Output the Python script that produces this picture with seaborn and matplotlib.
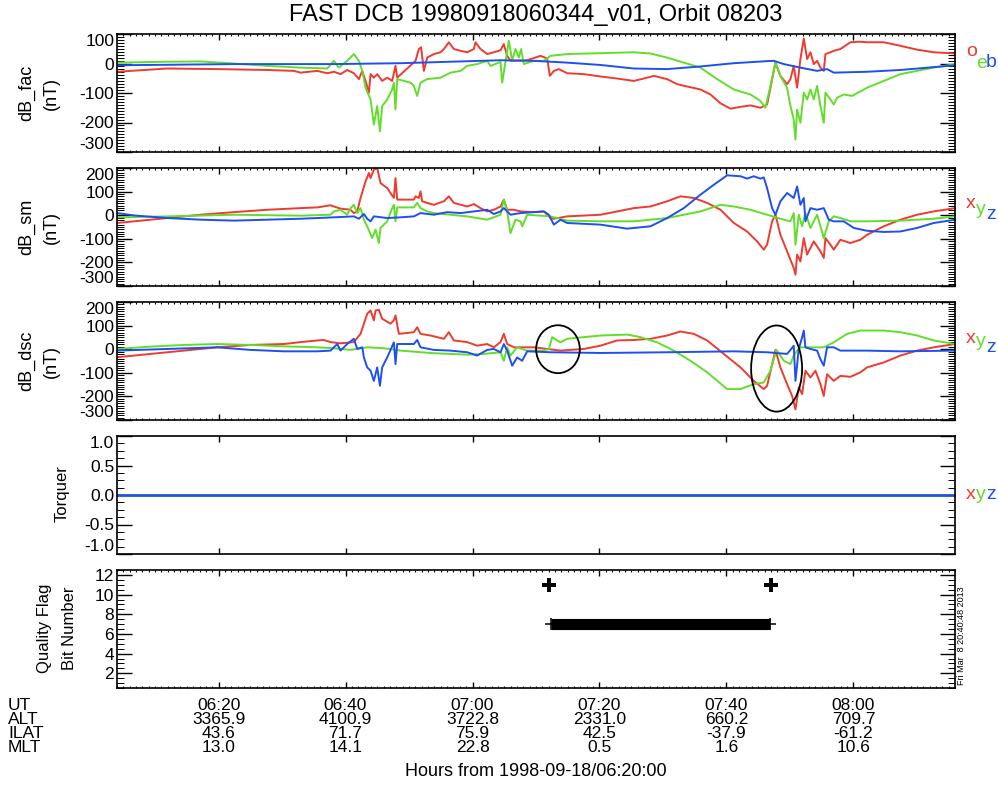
import numpy as np
import matplotlib
matplotlib.use("Agg")
import matplotlib.pyplot as plt
from matplotlib.patches import Ellipse
from matplotlib.ticker import FixedLocator, MultipleLocator, FormatStrFormatter
from matplotlib.transforms import blended_transform_factory
import seaborn as sns

# ---------------- data (time in minutes after 1998-09-18/06:20:00) ----------------
T_START, T_END = -16.0, 116.0

fac_o_t = [-15.96, -8.08, -0.21, 7.67, 11.86, 12.91, 15.54, 17.11, 18.16, 19.21,
           20.26, 21.31, 22.10, 22.63, 23.15, 23.68, 23.94, 24.46, 24.99, 25.77,
           26.56, 27.35, 27.87, 28.14, 31.02, 31.55, 31.90, 32.34, 32.86, 33.91,
           34.96, 35.49, 36.27, 37.06, 38.11, 39.16, 40.21, 40.47, 41.26, 42.31,
           43.36, 44.41, 44.93, 45.46, 45.98, 48.61, 50.71, 51.76, 52.18, 52.81,
           53.60, 54.91, 57.53, 60.16, 62.78, 65.41, 66.98, 68.56, 70.66, 72.23,
           73.81, 75.91, 77.48, 79.06, 80.63, 82.21, 83.78, 85.35, 86.40, 87.72,
           88.50, 89.55, 90.08, 90.60, 91.13, 91.65, 92.18, 92.70, 93.23, 93.75,
           94.28, 94.80, 95.33, 95.59, 96.38, 96.90, 97.95, 99.53, 100.84, 102.15,
           104.78, 107.40, 110.03, 112.65, 116.06]
fac_o_v = [-28, -17, -19, -22, -25, -31, -25, -33, -28, -36,
           -22, -33, -53, -25, -59, -99, -36, -48, -36, -59,
           -48, -59, -8, -48, 9, 49, 55, -25, 20, 32,
           38, 49, 72, 49, 43, 38, 49, 72, 49, 32,
           38, 45, 66, 26, 9, 11, 26, 17, -42, -25,
           -19, -33, -36, -44, -51, -59, -51, -42, -53, -70,
           -78, -88, -105, -135, -153, -147, -142, -150, -139, 3,
           -42, -70, -53, -8, -82, 15, 85, 15, 38, -2,
           9, -14, -25, 32, 38, 43, 49, 72, 74, 72,
           72, 60, 47, 38, 34]

fac_e_t = [-15.96, -8.08, -2.83, 2.42, 7.67, 12.91, 17.11, 18.16, 18.95, 20.26,
           21.31, 22.10, 22.63, 23.15, 23.94, 24.46, 24.99, 25.41, 25.77, 26.56,
           27.35, 27.61, 27.87, 28.14, 30.24, 30.76, 31.29, 31.81, 32.86, 34.96,
           36.54, 38.11, 39.16, 40.74, 42.31, 42.84, 44.41, 44.67, 45.72, 46.25,
           46.77, 47.30, 47.66, 48.08, 49.66, 51.23, 52.28, 54.91, 60.16, 65.41,
           68.03, 70.66, 73.28, 75.91, 78.53, 81.16, 83.78, 85.35, 86.14, 86.93,
           87.72, 88.50, 89.55, 90.08, 90.60, 90.87, 91.13, 91.65, 92.18, 92.70,
           93.23, 93.75, 94.28, 94.80, 95.33, 95.59, 96.38, 96.90, 97.43, 98.48,
           99.79, 102.15, 104.78, 107.40, 110.03, 112.65, 116.06]
fac_e_v = [3, 6, 7, 0, -8, -14, -17, 9, -14, 9,
           32, 9, -25, -82, -122, -207, -144, -230, -144, -122,
           -88, -65, -156, -53, -65, -76, -110, -65, -53, -48,
           -31, -25, -8, -2, 9, -8, 5, -65, 77, 9,
           49, 20, 49, -2, 9, 9, 26, 32, 35, 38,
           34, 20, 3, -14, -53, -88, -105, -127, -150, -76,
           3, -42, -82, -144, -190, -258, -156, -201, -99, -122,
           -88, -122, -76, -144, -201, -99, -122, -139, -116, -105,
           -110, -82, -59, -36, -25, -14, -2]

fac_b_t = [-15.96, 2.42, 18.16, 28.66, 44.41, 49.66, 54.91, 60.16, 65.41, 70.66,
           75.91, 81.16, 86.40, 87.46, 89.03, 91.65, 94.28, 95.85, 96.90, 102.15,
           107.40, 116.06]
fac_b_v = [-6, -2, -2, 1, 11, 9, 3, -5, -17, -19,
           -10, 1, 8, 9, -2, -14, -25, -19, -31, -28,
           -22, -6]

sm_x_t = [-15.96, -8.08, -2.83, 2.42, 7.67, 12.91, 15.54, 17.64, 18.16, 19.21,
          20.79, 21.31, 21.84, 22.36, 23.15, 23.68, 23.94, 24.46, 24.99, 25.51,
          26.56, 27.61, 27.87, 28.14, 30.76, 31.02, 31.55, 31.81, 32.07, 32.86,
          33.91, 35.49, 36.27, 37.06, 39.16, 40.21, 41.26, 42.31, 43.36, 44.41,
          44.93, 45.46, 46.51, 47.56, 49.66, 51.23, 52.28, 52.81, 54.91, 60.16,
          65.41, 68.03, 70.66, 72.76, 74.86, 76.96, 79.06, 81.16, 83.25, 84.83,
          85.88, 86.40, 87.19, 87.72, 88.50, 89.55, 90.60, 90.87, 91.13, 91.65,
          92.18, 92.70, 93.75, 94.80, 95.33, 95.59, 96.38, 96.90, 97.95, 99.53,
          101.10, 102.15, 104.78, 107.40, 110.03, 112.65, 116.06]
sm_x_v = [-33, -12, 2, 13, 23, 30, 33, 42, 37, 28,
          23, 9, 16, 73, 143, 179, 157, 193, 200, 136,
          115, 73, 157, 66, 66, 80, 73, 101, 59, 52,
          44, 59, 80, 52, 37, 47, 30, 16, 23, 37,
          66, 23, 23, 16, 13, 16, -12, -15, -5, 2,
          30, 37, 59, 80, 73, 52, 23, -33, -69, -111,
          -146, -125, -26, 2, -83, -153, -224, -252, -167, -196,
          -97, -167, -111, -153, -181, -97, -125, -146, -104, -118,
          -104, -83, -47, -19, 2, 16, 30]

sm_y_t = [-15.96, -8.08, 2.42, 12.91, 17.64, 18.16, 19.21, 20.26, 20.79, 21.31,
          21.84, 22.36, 22.89, 23.41, 24.20, 24.73, 25.25, 25.51, 26.56, 27.35,
          27.61, 27.87, 28.14, 30.76, 31.29, 31.81, 32.86, 33.91, 36.54, 39.16,
          42.31, 44.41, 44.93, 45.46, 45.98, 46.77, 47.56, 47.82, 48.61, 52.28,
          54.91, 60.16, 65.41, 70.66, 75.91, 79.06, 81.16, 83.78, 86.40, 89.03,
          90.08, 90.60, 90.87, 91.39, 91.92, 92.44, 93.23, 94.28, 94.80, 95.33,
          96.12, 96.90, 97.95, 99.53, 102.15, 107.40, 112.65, 116.06]
sm_y_v = [-9, -5, 2, -2, 2, 16, 23, 2, 30, 44,
          9, 30, -19, -47, -97, -61, -118, -54, -26, 30,
          44, -26, 33, 33, 52, 30, 16, 9, 2, -5,
          -19, 2, 66, 16, -76, -19, -26, -47, 2, -5,
          -23, -26, -26, -12, 16, 44, 37, 23, 2, -19,
          -26, 9, -125, 2, -47, 9, -54, 2, -47, -97,
          -26, -5, -12, -26, -26, -23, -15, -5]

sm_z_t = [-15.96, -13.33, -8.08, -2.83, 2.42, 7.67, 12.91, 18.16, 21.31, 22.10,
          22.89, 23.41, 23.94, 24.46, 26.56, 28.66, 30.76, 31.81, 33.91, 36.01,
          38.11, 40.21, 42.31, 43.36, 44.41, 44.93, 45.98, 47.56, 49.66, 51.23,
          52.02, 52.81, 53.86, 54.91, 60.16, 64.36, 68.03, 70.66, 73.28, 75.91,
          78.01, 80.11, 82.21, 83.25, 84.30, 85.35, 85.88, 86.40, 87.19, 87.72,
          88.50, 89.55, 90.60, 91.13, 91.65, 92.18, 92.44, 93.23, 94.28, 95.33,
          96.12, 96.90, 98.48, 100.05, 102.15, 104.78, 107.40, 110.03, 112.65, 116.06]
sm_z_v = [9, -1, -12, -19, -23, -19, -15, -9, -5, -15,
          5, -15, -26, -5, -12, -9, -5, 9, 2, 13,
          9, 16, 23, 5, 16, 30, 2, 9, 13, 16,
          2, -40, -19, -33, -40, -57, -47, -12, 30, 87,
          129, 169, 165, 155, 165, 155, 160, 115, 30, 2,
          59, 94, 73, 122, 44, 73, -26, 30, 23, 30,
          -19, -26, -26, -54, -66, -71, -69, -54, -33, -19]

dsc_x_t = [-15.96, -10.71, -5.46, -0.21, 5.04, 10.29, 12.91, 15.54, 16.59, 17.64,
           19.21, 21.31, 22.36, 23.41, 23.94, 24.46, 24.73, 25.25, 25.77, 27.09,
           27.61, 27.87, 28.40, 30.76, 31.29, 31.81, 33.39, 35.49, 36.27, 37.06,
           39.16, 40.74, 42.31, 43.36, 44.41, 44.93, 45.46, 46.51, 49.66, 51.76,
           53.86, 57.53, 60.16, 62.78, 65.41, 68.03, 70.66, 72.76, 74.86, 76.96,
           79.58, 82.21, 84.30, 85.88, 86.40, 87.72, 88.50, 89.55, 90.34, 90.87,
           91.39, 91.92, 92.44, 93.23, 94.02, 94.80, 95.33, 95.85, 96.90, 97.95,
           99.53, 101.10, 102.15, 104.78, 107.40, 110.03, 112.65, 116.06]
dsc_x_v = [-34, -20, -6, 8, 18, 22, 30, 37, 39, 30,
           25, 30, 65, 150, 164, 122, 164, 167, 129, 108,
           122, 143, 65, 72, 93, 65, 58, 44, 72, 37,
           30, 15, 22, 8, 30, 65, 22, 8, 8, 1,
           -6, 1, 15, 37, 39, 44, 58, 75, 65, 37,
           -20, -77, -134, -169, -155, -3, -77, -148, -198, -255,
           -162, -190, -91, -120, -91, -148, -198, -106, -134, -113,
           -117, -98, -77, -56, -27, -6, 8, 22]

dsc_y_t = [-15.96, -10.71, -5.46, -0.21, 5.04, 10.29, 15.54, 18.16, 20.79, 23.41,
           26.04, 28.66, 33.91, 39.16, 41.79, 44.41, 44.93, 45.46, 45.98, 47.03,
           48.61, 51.23, 52.02, 52.55, 53.33, 53.86, 54.91, 57.53, 60.16, 64.36,
           66.46, 69.08, 71.71, 74.33, 76.96, 80.11, 82.21, 84.30, 85.88, 86.93,
           87.88, 89.03, 90.08, 90.60, 91.13, 91.65, 93.75, 95.33, 96.90, 99.00,
           101.10, 104.78, 107.40, 110.03, 112.65, 116.06]
dsc_y_v = [1, 11, 18, 22, 18, 12, 8, 4, -3, 8,
           4, -6, -17, -23, -20, -13, -49, 8, -27, 8,
           -6, -6, 1, 51, 37, 29, 44, 51, 58, 62,
           51, 29, -6, -49, -98, -169, -169, -148, -141, -91,
           -3, -49, -63, -27, -6, 8, 8, 8, 29, 65,
           79, 79, 72, 58, 37, 22]

dsc_z_t = [-15.96, -8.08, -0.21, 5.04, 10.29, 15.54, 17.64, 18.16, 18.69, 19.21,
           20.26, 21.31, 21.84, 22.63, 22.89, 23.41, 23.94, 24.46, 24.99, 25.41,
           25.77, 26.56, 27.61, 27.87, 28.14, 30.76, 31.29, 31.81, 33.91, 36.54,
           39.16, 40.74, 42.31, 43.36, 44.41, 44.93, 45.46, 46.25, 47.03, 47.82,
           48.61, 52.28, 60.16, 70.66, 81.16, 86.40, 89.55, 90.08, 90.60, 90.87,
           91.39, 91.92, 92.18, 92.44, 93.23, 94.28, 94.80, 95.33, 95.85, 96.90,
           97.95, 102.15, 107.40, 116.06]
dsc_z_v = [-6, 1, 8, -3, -9, -9, -6, 8, 22, -6,
           22, 44, 1, 8, -35, -77, -91, -134, -77, -155,
           -77, -35, 29, -63, 22, 22, 39, 8, -3, -6,
           -13, -27, -3, 1, -13, 22, -6, -70, -35, -49,
           -9, -13, -16, -13, -9, -13, -20, -3, 15, -134,
           1, 51, 79, 8, 1, -6, -42, -70, 8, 8,
           -6, -6, -9, -6]

torq_t = [T_START, T_END]
torq_x = [0.0, 0.0]
torq_y = [0.0, 0.0]
torq_z = [0.0, 0.0]

qf_bit11_t = [51.97, 87.09]
qf_bit11 = [11, 11]
qf_bit7_t = [52.44, 86.93]
qf_bit7 = [7, 7]

# ellipses marked on dB_dsc: (centre time [min], centre value [nT], width [min], height [nT])
ellipse_1 = (53.46, 0.0, 6.88, 203.0)
ellipse_2 = (87.90, -82.0, 8.03, 365.0)

ut_ticks_min = [0, 20, 40, 60, 80, 100]
ut_labels = ['06:20', '06:40', '07:00', '07:20', '07:40', '08:00']
alt_labels = ['3365.9', '4100.9', '3722.8', '2331.0', '660.2', '709.7']
ilat_labels = ['43.6', '71.7', '75.9', '42.5', '-37.9', '-61.2']
mlt_labels = ['13.0', '14.1', '22.8', '0.5', '1.6', '10.6']

# ---------------- style ----------------
W, H = 998, 785
sns.set_theme(style="ticks")
plt.rcParams['font.family'] = ['Liberation Sans', 'DejaVu Sans']
plt.rcParams['axes.unicode_minus'] = False
plt.rcParams['axes.linewidth'] = 1.2
plt.rcParams['axes.edgecolor'] = 'black'
plt.rcParams['xtick.color'] = 'black'
plt.rcParams['ytick.color'] = 'black'
plt.rcParams['text.color'] = 'black'

RED = '#ee3b2f'
GREEN = '#62de2a'
BLUE = '#1e4ff0'
LW = 1.4

fig = plt.figure(figsize=(W / 100, H / 100), dpi=100)
fig.patch.set_facecolor('white')


def px(x, y):
    return x / W, 1 - y / H


def panel_axes(i):
    top = 34 + 134 * i
    ax = fig.add_axes([117 / W, 1 - (top + 118) / H, 838 / W, 118 / H])
    ax.set_facecolor('white')
    return ax


def style_x(ax, minor=True):
    ax.set_xlim(T_START / 60, T_END / 60)
    ax.xaxis.set_major_locator(FixedLocator(np.array(ut_ticks_min) / 60))
    if minor:
        ax.xaxis.set_minor_locator(MultipleLocator(1 / 60))
    ax.tick_params(axis='x', which='major', direction='in', length=4.5, width=1.0,
                   top=True, bottom=True, labelbottom=False)
    ax.tick_params(axis='x', which='minor', direction='in', length=1.6, width=0.8,
                   top=True, bottom=True)
    ax.set_xlabel('')


def style_y(ax, ylim, major, minor, fmt, fs=12.5, nudge=True):
    ax.set_ylim(*ylim)
    ax.yaxis.set_major_locator(FixedLocator(major))
    ax.yaxis.set_minor_locator(MultipleLocator(minor))
    ax.yaxis.set_major_formatter(FormatStrFormatter(fmt))
    ax.tick_params(axis='y', which='major', direction='in', length=11, width=1.0,
                   left=True, right=True, labelsize=fs, pad=2)
    ax.tick_params(axis='y', which='minor', direction='in', length=5, width=0.7,
                   left=True, right=True)
    ax.set_ylabel('')
    if nudge:
        ticks = ax.yaxis.get_major_ticks()
        ticks[0].label1.set_verticalalignment('bottom')
        ticks[-1].label1.set_verticalalignment('top')


def draw(ax, t, v, color, lw=LW):
    sns.lineplot(x=np.asarray(t) / 60, y=np.asarray(v), color=color, linewidth=lw,
                 ax=ax, estimator=None, sort=False)


# ---------------- panel 1: dB_fac ----------------
ax1 = panel_axes(0)
draw(ax1, fac_o_t, fac_o_v, RED)
draw(ax1, fac_e_t, fac_e_v, GREEN)
draw(ax1, fac_b_t, fac_b_v, BLUE)
style_x(ax1)
style_y(ax1, (-300, 100), [-300, -200, -100, 0, 100], 10, '%d')

# ---------------- panel 2: dB_sm ----------------
ax2 = panel_axes(1)
draw(ax2, sm_x_t, sm_x_v, RED)
draw(ax2, sm_y_t, sm_y_v, GREEN)
draw(ax2, sm_z_t, sm_z_v, BLUE)
style_x(ax2)
style_y(ax2, (-300, 200), [-300, -200, -100, 0, 100, 200], 10, '%d')

# ---------------- panel 3: dB_dsc ----------------
ax3 = panel_axes(2)
draw(ax3, dsc_x_t, dsc_x_v, RED)
draw(ax3, dsc_y_t, dsc_y_v, GREEN)
draw(ax3, dsc_z_t, dsc_z_v, BLUE)
style_x(ax3)
style_y(ax3, (-300, 200), [-300, -200, -100, 0, 100, 200], 10, '%d')
for (tc, vc, wd, ht) in (ellipse_1, ellipse_2):
    ax3.add_patch(Ellipse((tc / 60, vc), wd / 60, ht, fill=False, ec='black', lw=1.3,
                          zorder=5))

# ---------------- panel 4: Torquer ----------------
ax4 = panel_axes(3)
draw(ax4, torq_t, torq_x, RED, lw=1.8)
draw(ax4, torq_t, torq_y, GREEN, lw=1.8)
draw(ax4, torq_t, torq_z, BLUE, lw=1.8)
style_x(ax4, minor=False)
style_y(ax4, (-1.0, 1.0), [-1.0, -0.5, 0.0, 0.5, 1.0], 0.125, '%.1f', fs=12.5)

# ---------------- panel 5: Quality flag ----------------
ax5 = panel_axes(4)
sns.lineplot(x=np.asarray(qf_bit7_t) / 60, y=qf_bit7, color='black', linewidth=8,
             ax=ax5, estimator=None, sort=False, solid_capstyle='butt')
sns.scatterplot(x=np.asarray(qf_bit7_t) / 60, y=qf_bit7, marker='+', s=70,
                color='black', linewidth=1.1, ax=ax5)
sns.scatterplot(x=np.asarray(qf_bit11_t) / 60, y=qf_bit11, marker='P', s=90,
                color='black', linewidth=0, ax=ax5)
style_x(ax5)
style_y(ax5, (0.5, 12.5), [2, 4, 6, 8, 10, 12], 0.5, '%d', fs=12.5, nudge=False)

# ---------------- labels ----------------
fig.text(*px(536, 15), 'FAST DCB 19980918060344_v01, Orbit 08203', fontsize=17,
         ha='center', va='center')

ylabel_fs = 13
for (x, y, s) in [(27, 93, 'dB_fac'), (51, 93, '(nT)'),
                  (27, 227, 'dB_sm'), (51, 227, '(nT)'),
                  (27, 361, 'dB_dsc'), (51, 361, '(nT)')]:
    fig.text(*px(x, y), s, rotation=90, fontsize=ylabel_fs, ha='center', va='center')
fig.text(*px(62, 494), 'Torquer', rotation=90, fontsize=12, ha='center', va='center')
fig.text(*px(45, 628), 'Quality Flag', rotation=90, fontsize=12, ha='center', va='center')
fig.text(*px(70, 628), 'Bit Number', rotation=90, fontsize=12, ha='center', va='center')

# component labels on the right
for (x, y, s, c) in [(966, 56, 'o', RED), (976, 68, 'e', GREEN), (986, 67, 'b', BLUE),
                     (966, 208, 'x', RED), (976, 214, 'y', GREEN), (986, 219, 'z', BLUE),
                     (966, 343, 'x', RED), (976, 346, 'y', GREEN), (986, 352, 'z', BLUE)]:
    fig.text(*px(x, y), s, color=c, fontsize=14, ha='left', va='baseline')
for (x, s, c) in [(966, 'x', RED), (976, 'y', GREEN), (986, 'z', BLUE)]:
    fig.text(*px(x, 499), s, color=c, fontsize=14, ha='left', va='baseline')

fig.text(*px(962, 636), 'Fri Mar  8 20:40:48 2013', rotation=90, fontsize=6.5,
         ha='center', va='center')

# UT / ALT / ILAT / MLT block
blend = blended_transform_factory(ax5.transData, fig.transFigure)
rows = [('UT', ut_labels, 705), ('ALT', alt_labels, 719),
        ('ILAT', ilat_labels, 733), ('MLT', mlt_labels, 747)]
for name, labels, ypx in rows:
    fig.text(*px(8, ypx), name, fontsize=12.5, ha='left', va='center')
    for m, lab in zip(ut_ticks_min, labels):
        fig.text(m / 60, 1 - ypx / H, lab, transform=blend, fontsize=12.5,
                 ha='center', va='center')
fig.text(*px(536, 772), 'Hours from 1998-09-18/06:20:00', fontsize=13,
         ha='center', va='center')

fig.savefig('out.png', dpi=100, facecolor='white')
